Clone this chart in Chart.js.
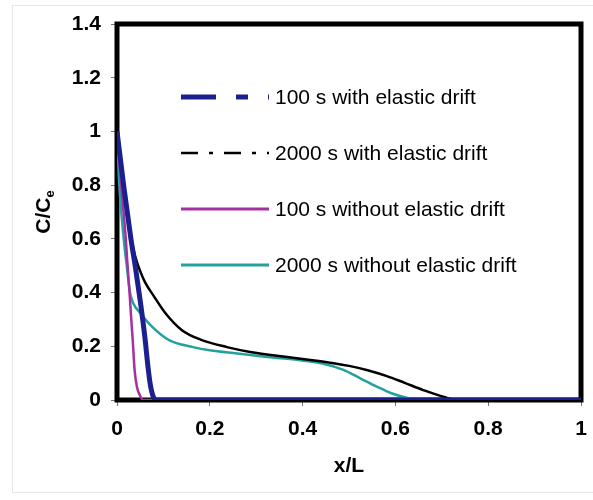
<!DOCTYPE html>
<html>
<head>
<meta charset="utf-8">
<script src="https://cdn.jsdelivr.net/npm/chart.js@4"></script>
<style>
    body { margin: 0; background: #fff; }
    #wrap { width: 593px; height: 500px; }
</style>
</head>
<body>
<div id="wrap"><canvas id="grafica" width="593" height="500"></canvas></div>
<script>
// series (x/L, C/Ce)
const conElastico100 = [
    [0, 1], [0.015, 0.79], [0.03, 0.6], [0.04, 0.49], [0.05, 0.37], [0.06, 0.235],
    [0.067, 0.12], [0.072, 0.055], [0.077, 0.018], [0.083, 0], [1, 0]
];
const conElastico2000 = [
    [0, 1], [0.01, 0.86], [0.02, 0.72], [0.03, 0.61], [0.04, 0.53], [0.05, 0.48],
    [0.06, 0.44], [0.08, 0.385], [0.104, 0.324], [0.14, 0.26], [0.18, 0.225],
    [0.237, 0.197], [0.287, 0.179], [0.367, 0.16], [0.417, 0.149], [0.467, 0.137],
    [0.5, 0.127], [0.54, 0.111], [0.58, 0.09], [0.62, 0.064], [0.66, 0.037],
    [0.705, 0.011], [0.735, 0], [1, 0]
];
const sinElastico100 = [
    [0, 1], [0.009, 0.8], [0.019, 0.6], [0.022, 0.52], [0.027, 0.4], [0.03, 0.32],
    [0.034, 0.22], [0.038, 0.11], [0.043, 0.048], [0.05, 0.015], [0.057, 0], [1, 0]
];
const sinElastico2000 = [
    [0, 1], [0.005, 0.8], [0.0145, 0.6], [0.021, 0.5], [0.028, 0.4], [0.035, 0.36],
    [0.05, 0.324], [0.076, 0.272], [0.112, 0.223], [0.164, 0.197], [0.2, 0.185],
    [0.259, 0.173], [0.324, 0.16], [0.395, 0.148], [0.445, 0.135], [0.488, 0.112],
    [0.525, 0.08], [0.56, 0.05], [0.59, 0.026], [0.62, 0.01], [0.65, 0], [1, 0]
];

const nombres = [
    "100 s with elastic drift",
    "2000 s with elastic drift",
    "100 s without elastic drift",
    "2000 s without elastic drift"
];
const colores = ["#1b1f8f", "#000000", "#a5309f", "#22a19f"];
const grosores = [5, 2.5, 2.5, 2.5];
const guiones = [[35, 20, 12, 20], [17, 11, 4, 11], [], []];
const ticksX = [0, 0.2, 0.4, 0.6, 0.8, 1];
const ticksY = [0, 0.2, 0.4, 0.6, 0.8, 1, 1.2, 1.4];

function aPuntos(arr) {
    return arr.map(p => ({ x: p[0], y: p[1] }));
}

const series = [conElastico100, conElastico2000, sinElastico100, sinElastico2000];
const fuente = "'Liberation Sans', Arial, sans-serif";

// marco negro grueso, leyenda y titulos
const marco = {
    id: "marco",
    beforeDraw(chart) {
        const ctx = chart.ctx;
        ctx.save();
        ctx.strokeStyle = "#e6e6e6";
        ctx.lineWidth = 1;
        ctx.strokeRect(12.5, 5.5, 590, 487);
        ctx.restore();
    },
    beforeDatasetsDraw(chart) {
        const a = chart.chartArea;
        const ctx = chart.ctx;
        ctx.save();
        ctx.strokeStyle = "#000";
        ctx.lineWidth = 5;
        ctx.strokeRect(a.left, a.top, a.right - a.left, a.bottom - a.top);
        ctx.restore();
    },
    afterDraw(chart) {
        const ctx = chart.ctx;
        const a = chart.chartArea;
        ctx.save();
        ctx.font = "21px " + fuente;
        ctx.textBaseline = "middle";
        ctx.textAlign = "left";
        const filas = [97, 153, 209, 265];
        nombres.forEach((n, i) => {
            ctx.beginPath();
            ctx.strokeStyle = colores[i];
            ctx.lineWidth = i === 0 ? 5 : (i === 1 ? 2.5 : 3);
            ctx.setLineDash(guiones[i]);
            ctx.moveTo(181, filas[i]);
            ctx.lineTo(269, filas[i]);
            ctx.stroke();
            ctx.setLineDash([]);
            ctx.fillStyle = "#000";
            ctx.fillText(n, 275, filas[i] + 1);
        });
        // titulo eje x
        ctx.font = "bold 21px " + fuente;
        ctx.textAlign = "center";
        ctx.fillText("x/L", (a.left + a.right) / 2, 466);
        // titulo eje y con subindice
        ctx.translate(44, (a.top + a.bottom) / 2);
        ctx.rotate(-Math.PI / 2);
        ctx.textAlign = "left";
        const w1 = ctx.measureText("C/C").width;
        ctx.font = "bold 13px " + fuente;
        const w2 = ctx.measureText("e").width;
        const x0 = -(w1 + w2) / 2;
        ctx.font = "bold 21px " + fuente;
        ctx.fillText("C/C", x0, 0);
        ctx.font = "bold 13px " + fuente;
        ctx.fillText("e", x0 + w1, 6);
        ctx.restore();
    }
};

const ctx = document.getElementById("grafica").getContext("2d");
new Chart(ctx, {
    type: "scatter",
    data: {
        datasets: series.map((s, i) => ({
            label: nombres[i],
            data: aPuntos(s),
            showLine: true,
            borderColor: colores[i],
            backgroundColor: colores[i],
            borderWidth: grosores[i],
            pointRadius: 0,
            cubicInterpolationMode: "monotone"
        }))
    },
    options: {
        responsive: false,
        animation: false,
        layout: { padding: { top: 24, right: 12, left: 0, bottom: 0 } },
        plugins: {
            legend: { display: false },
            tooltip: { enabled: false }
        },
        scales: {
            x: {
                type: "linear",
                min: 0,
                max: 1,
                afterFit: s => { s.height = 100; s.paddingRight = 0; s.paddingLeft = 0; },
                afterBuildTicks: s => { s.ticks = ticksX.map(v => ({ value: v })); },
                grid: { drawOnChartArea: false, tickLength: 6, color: "#777" },
                border: { display: false },
                ticks: {
                    padding: 11,
                    color: "#000",
                    callback: v => String(v),
                    font: { family: fuente, size: 21, weight: "bold" }
                }
            },
            y: {
                type: "linear",
                min: 0,
                max: 1.4,
                afterFit: s => { s.width = 117; s.paddingTop = 0; s.paddingBottom = 0; },
                afterBuildTicks: s => { s.ticks = ticksY.map(v => ({ value: v })); },
                grid: { drawOnChartArea: false, tickLength: 6, color: "#777" },
                border: { display: false },
                ticks: {
                    padding: 10,
                    color: "#000",
                    callback: v => String(v),
                    font: { family: fuente, size: 21, weight: "bold" }
                }
            }
        }
    },
    plugins: [marco]
});
</script>
</body>
</html>
